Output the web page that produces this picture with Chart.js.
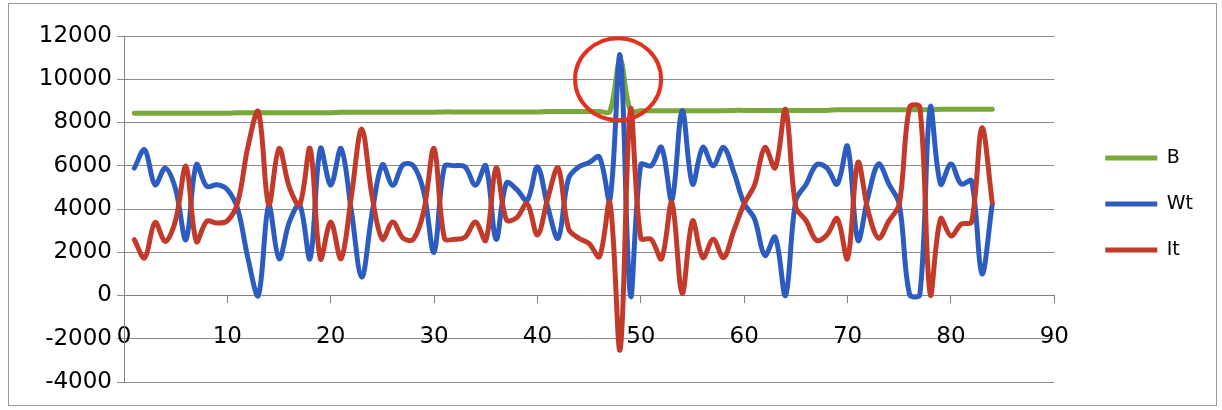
<!DOCTYPE html>
<html>
<head>
<meta charset="utf-8">
<script src="https://cdn.jsdelivr.net/npm/chart.js@4.4.1/dist/chart.umd.min.js"></script>
<style>
  html, body { margin: 0; padding: 0; background: #fff; }
  #wrap { position: relative; width: 1222px; height: 410px; }
</style>
</head>
<body>
<div id="wrap"><canvas id="lineChart" width="1222" height="410"></canvas></div>
<script>
// values, x runs 1..84
const xValues = [1, 2, 3, 4, 5, 6, 7, 8, 9, 10, 11, 12, 13, 14, 15, 16, 17, 18, 19, 20,
  21, 22, 23, 24, 25, 26, 27, 28, 29, 30, 31, 32, 33, 34, 35, 36, 37, 38, 39, 40,
  41, 42, 43, 44, 45, 46, 47, 48, 49, 50, 51, 52, 53, 54, 55, 56, 57, 58, 59, 60,
  61, 62, 63, 64, 65, 66, 67, 68, 69, 70, 71, 72, 73, 74, 75, 76, 77, 78, 79, 80,
  81, 82, 83, 84];

const bValues = [8430, 8430, 8430, 8430, 8430, 8430, 8430, 8430, 8430, 8430,
  8450, 8450, 8450, 8450, 8450, 8450, 8450, 8450, 8450, 8450,
  8470, 8470, 8470, 8470, 8470, 8470, 8470, 8470, 8470, 8470,
  8490, 8490, 8490, 8490, 8490, 8490, 8490, 8490, 8490, 8490,
  8510, 8510, 8510, 8510, 8510, 8510, 8510, 10900, 8540, 8540,
  8540, 8540, 8540, 8540, 8540, 8540, 8540, 8540, 8560, 8560,
  8560, 8560, 8560, 8560, 8560, 8560, 8560, 8560, 8590, 8590,
  8590, 8590, 8590, 8590, 8590, 8590, 8590, 8590, 8610, 8610,
  8610, 8610, 8610, 8610];

const wtValues = [5890, 6740, 5120, 5890, 4900, 2580, 6050, 5050, 5120, 4900,
  4000, 1700, 0, 4150, 1700, 3400, 4200, 1700, 6800, 5100,
  6800, 3900, 850, 3800, 6050, 5100, 6050, 6000, 4800, 2000,
  5950, 6000, 5950, 5100, 6000, 2600, 5200, 4900, 4400, 5950,
  4100, 2650, 5400, 5950, 6150, 6400, 4400, 11100, 0, 6050,
  6000, 6850, 4400, 8550, 5150, 6850, 6000, 6850, 5700, 4250,
  3550, 1850, 2700, 0, 4400, 5150, 6050, 5900, 5150, 6900,
  2550, 4600, 6080, 5150, 4230, 50, 50, 8700, 5150, 6080,
  5150, 5300, 1000, 4230];

const itValues = [2580, 1740, 3380, 2500, 3500, 5970, 2500, 3430, 3350, 3450,
  4300, 6900, 8500, 4200, 6800, 5000, 4200, 6800, 1700, 3400,
  1700, 4600, 7700, 4600, 2600, 3400, 2650, 2600, 3900, 6800,
  2650, 2600, 2700, 3400, 2550, 5900, 3500, 3600, 4250, 2800,
  4500, 5900, 3100, 2650, 2400, 1800, 4300, -2500, 8600, 2650,
  2600, 1700, 4300, 100, 3450, 1750, 2600, 1750, 3000, 4250,
  5100, 6850, 5900, 8600, 4100, 3450, 2550, 2800, 3550, 1700,
  6150, 3900, 2650, 3450, 4230, 8700, 8700, 50, 3550, 2750,
  3300, 3400, 7750, 4300];

const xTicks = [0, 10, 20, 30, 40, 50, 60, 70, 80, 90];
const yTicks = [-4000, -2000, 0, 2000, 4000, 6000, 8000, 10000, 12000];

// the hand drawn ring around the spike
const circledPoint = { x: 47.8, y: 10000 };

window.onload = function () {
  const ctx = document.getElementById('lineChart').getContext('2d');
  const font = { family: 'DejaVu Sans', size: 23 };

  const toPoints = values => values.map((v, i) => ({ x: xValues[i], y: v }));

  const circlePlugin = {
    id: 'circleMark',
    afterDatasetsDraw(chart) {
      const c = chart.ctx;
      const cx = chart.scales.x.getPixelForValue(circledPoint.x);
      const cy = chart.scales.y.getPixelForValue(circledPoint.y);
      c.save();
      c.strokeStyle = '#e2321f';
      c.lineWidth = 4;
      c.beginPath();
      c.ellipse(cx, cy, 43, 41, 0, 0, Math.PI * 2);
      c.stroke();
      c.restore();
    }
  };

  // thin frame round the whole chart, like the excel chart border
  const framePlugin = {
    id: 'frame',
    beforeDraw(chart) {
      const c = chart.ctx;
      c.save();
      c.strokeStyle = '#9a9a9a';
      c.lineWidth = 1;
      c.strokeRect(8.5, 3.5, chart.width - 14, chart.height - 8);
      c.restore();
    }
  };

  // lift the legend block a little, it sits slightly above centre in the picture
  const legendNudge = {
    id: 'legendNudge',
    afterLayout(chart) {
      if (chart.legend) {
        chart.legend.top -= 5;
        chart.legend.bottom -= 5;
      }
    }
  };

  const line = (label, values, color, order) => ({
    label: label,
    data: toPoints(values),
    borderColor: color,
    backgroundColor: color,
    borderWidth: 5,
    pointRadius: 0,
    tension: 0.35,
    borderCapStyle: 'round',
    borderJoinStyle: 'round',
    yAxisID: 'y',
    order: order
  });

  new Chart(ctx, {
    type: 'line',
    data: {
      datasets: [
        line('B', bValues, '#79a83b', 3),
        line('Wt', wtValues, '#2c5cbf', 2),
        line('It', itValues, '#c23b2a', 1)
      ]
    },
    options: {
      responsive: false,
      animation: false,
      devicePixelRatio: 1,
      layout: { padding: { top: 36, bottom: 28, left: 0, right: 19 } },
      plugins: {
        tooltip: { enabled: false },
        legend: {
          position: 'right',
          labels: {
            usePointStyle: true,
            pointStyle: 'line',
            pointStyleWidth: 52,
            padding: 27,
            color: '#000',
            font: { family: 'DejaVu Sans', size: 19 },
            sort: (a, b) => a.datasetIndex - b.datasetIndex
          }
        }
      },
      scales: {
        x: {
          type: 'linear',
          position: { y: 0 },
          min: 0,
          max: 90,
          afterBuildTicks: s => { s.ticks = xTicks.map(v => ({ value: v })); },
          grid: { drawOnChartArea: false, drawTicks: true, tickLength: 7, color: '#808080' },
          border: { display: true, color: '#808080', width: 1 },
          ticks: { color: '#000', font: font, padding: 21, maxRotation: 0, autoSkip: false }
        },
        y: {
          type: 'linear',
          position: 'left',
          min: -4000,
          max: 12000,
          afterBuildTicks: s => { s.ticks = yTicks.map(v => ({ value: v })); },
          afterFit: s => { s.width = 124; },
          grid: { color: '#8c8c8c', tickLength: 7, lineWidth: 1 },
          border: { display: true, color: '#808080', width: 1 },
          ticks: { color: '#000', font: font, padding: 5, callback: v => String(v) }
        },
        pad: {
          type: 'linear',
          axis: 'y',
          position: 'right',
          display: true,
          grid: { display: false },
          border: { display: false },
          ticks: { display: false },
          afterFit: s => { s.width = 24; }
        }
      }
    },
    plugins: [framePlugin, circlePlugin, legendNudge]
  });
};
</script>
</body>
</html>
